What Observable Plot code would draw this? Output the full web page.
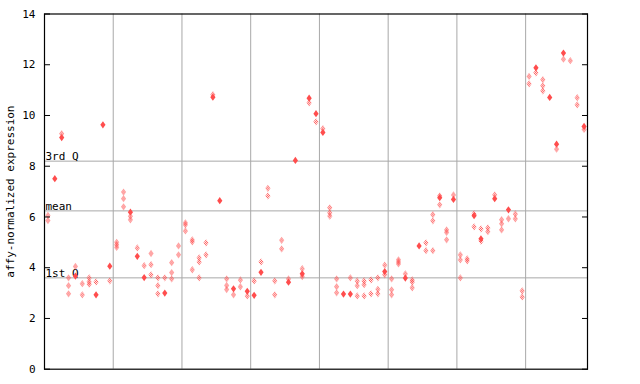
<!DOCTYPE html>
<html><head><meta charset="utf-8">
<script src="https://cdn.jsdelivr.net/npm/d3@7"></script>
<script src="https://cdn.jsdelivr.net/npm/@observablehq/plot@0.6"></script>
<style>body{margin:0;background:#fff}</style>
</head><body><div id="chart"></div>
<script>
// replicate values (checkered diamonds): [sample index, values]
const hollowColumns = [
  [0,[6.06,5.86]],[2,[9.28]],[3,[3.60,3.29,2.97]],[4,[4.05]],[5,[3.37,2.93]],
  [6,[3.60,3.45,3.35]],[7,[3.44]],[9,[3.48]],[10,[5.00,4.90,4.80]],[11,[6.98,6.72,6.40]],
  [12,[6.03,5.89]],[13,[4.78]],[14,[4.08]],[15,[4.56,4.12,3.72]],[16,[3.60,3.29,2.97]],
  [17,[3.60]],[18,[4.20,3.81,3.56]],[19,[4.86,4.51]],[20,[5.77,5.69,5.45]],[21,[5.10,5.02,3.92]],
  [22,[4.39,4.23,3.60]],[23,[4.98,4.51]],[24,[10.82]],[26,[3.56,3.30,3.14]],[27,[2.93]],
  [28,[3.52,3.25]],[29,[2.89]],[30,[3.48]],[31,[4.23]],[32,[7.13,6.83]],[33,[3.48,2.93]],
  [34,[5.08,4.74]],[35,[3.56]],[37,[3.96,3.65]],[38,[10.50]],[39,[9.75]],[40,[9.48]],
  [41,[6.36,6.16,6.03]],[42,[3.56,3.25,3.01]],[44,[3.60]],[45,[3.48,3.29,2.89]],
  [46,[3.48,3.33,2.89]],[47,[3.52,2.97]],[48,[3.60,3.15,2.97]],[49,[4.10,3.72]],
  [50,[3.56,3.13,2.93]],[51,[4.31,4.23,4.15]],[52,[3.76]],[53,[3.52,3.44,3.21]],
  [55,[4.98,4.67]],[56,[6.09,5.85,4.67]],[57,[6.83,6.48]],[58,[5.49,5.39,5.10]],[59,[6.87]],
  [60,[4.51,4.31,3.60]],[61,[4.35,4.27]],[62,[6.12,5.61]],[63,[5.53,5.05]],[64,[5.57,5.42]],
  [65,[6.87]],[66,[5.89,5.73,5.49]],[67,[5.93]],[68,[6.12,5.93]],[69,[3.09,2.85]],
  [70,[11.54,11.25]],[71,[11.68]],[72,[11.41,11.17,10.97]],[74,[8.67]],[75,[12.22]],
  [76,[12.16]],[77,[10.70,10.42]],[78,[9.45]]
];
// overlapping replicates (solid diamonds)
const solidSample = [1,2,4,7,8,9,12,13,14,17,24,25,27,29,30,31,35,36,37,38,39,40,43,44,49,52,54,57,59,62,63,65,67,71,73,74,75,78];
const solidValue  = [7.51,9.13,3.67,2.93,9.63,4.06,6.19,4.45,3.61,3.00,10.72,6.64,3.17,3.07,2.91,3.82,3.43,8.23,3.76,10.68,10.07,9.33,2.96,2.96,3.85,3.59,4.86,6.76,6.69,6.05,5.14,6.72,6.28,11.88,10.71,8.87,12.46,9.57];
const groupBounds = [9.5,19.5,29.5,39.5,49.5,59.5,69.5];
const refNames = ["3rd Q","mean","1st Q"];
const refValues = [8.20,6.24,3.60];
const yTicks = [0,2,4,6,8,10,12,14];
const yTitle = "affy-normalized expression";

const hollow = hollowColumns.flatMap(([s, vs]) => vs.map(v => ({s, v})));
const solid = solidSample.map((s, i) => ({s, v: solidValue[i]}));
const refs = refNames.map((n, i) => ({n, v: refValues[i]}));

const tallDiamond = {
  draw(ctx, size) {
    const r = Math.sqrt(size / Math.PI);
    ctx.moveTo(0, -r * 1.4); ctx.lineTo(r, 0); ctx.lineTo(0, r * 1.4); ctx.lineTo(-r, 0); ctx.closePath();
  }
};
const red = "#ff4d4d";

const chart = Plot.plot({
  width: 640, height: 384,
  marginLeft: 44, marginRight: 53, marginTop: 13.5, marginBottom: 15.3,
  style: {fontFamily: "DejaVu Sans Mono", fontSize: "11px", background: "white", color: "black"},
  x: {domain: [-0.5, 78.5], axis: null},
  y: {domain: [0, 14], ticks: yTicks, label: null},
  marks: [
    Plot.ruleX(groupBounds, {stroke: "#a8a8a8", strokeWidth: 1}),
    Plot.ruleY(refs, {y: "v", stroke: "#a8a8a8", strokeWidth: 1}),
    Plot.text(refs, {x: -0.5, y: "v", text: "n", textAnchor: "start", lineAnchor: "bottom", dx: 1, dy: -1, fill: "black", fontSize: 11}),
    Plot.dot(hollow, {x: "s", y: "v", symbol: tallDiamond, r: 2.6, fill: red}),
    Plot.dot(solid, {x: "s", y: "v", symbol: tallDiamond, r: 2.6, fill: red}),
    Plot.axisY(yTicks, {anchor: "left", tickSize: 0, tickPadding: 9, fontSize: 11, label: yTitle, labelArrow: "none", labelAnchor: "center", labelOffset: 38}),
    Plot.axisY(yTicks, {anchor: "left", tickSize: 6, dx: 6, tickFormat: () => "", label: null}),
    Plot.axisY(yTicks, {anchor: "right", tickSize: 6, dx: -6, tickFormat: () => "", label: null}),
    Plot.frame({stroke: "black", strokeWidth: 1.2})
  ]
});

// strip any arrow the library may add to the axis title
chart.querySelectorAll("text").forEach(t => {
  if (t.textContent.includes(yTitle) && t.textContent !== yTitle) t.textContent = yTitle;
});

const svgNS = "http://www.w3.org/2000/svg";
const defs = document.createElementNS(svgNS, "defs");
defs.innerHTML = `<pattern id="chk" width="2" height="2" patternUnits="userSpaceOnUse"><rect x="0" y="0" width="1" height="1" fill="${red}"/><rect x="1" y="1" width="1" height="1" fill="${red}"/></pattern>`;
chart.insertBefore(defs, chart.firstChild);
const dotGroups = chart.querySelectorAll('g[aria-label="dot"]');
if (dotGroups.length) {
  dotGroups[0].setAttribute("fill", "url(#chk)");
  dotGroups[0].querySelectorAll("path").forEach(p => { if (p.getAttribute("fill")) p.setAttribute("fill", "url(#chk)"); });
}
document.getElementById("chart").appendChild(chart);
</script>
</body></html>
